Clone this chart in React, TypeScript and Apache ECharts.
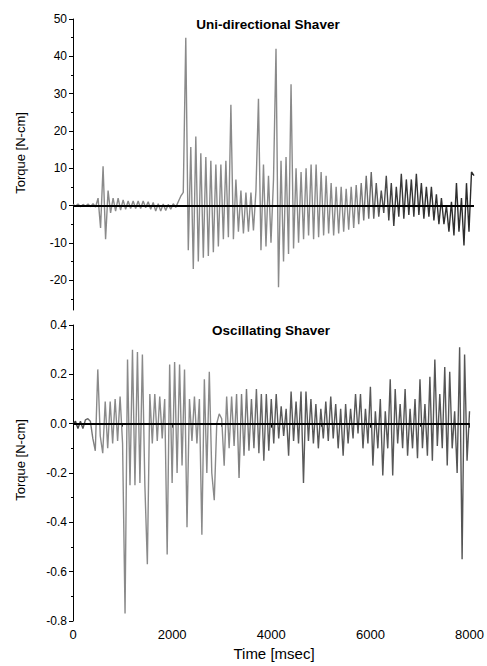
import React, { useEffect, useRef } from "react";
import * as echarts from "echarts";

// sampling interval of the recorded signals (ms)
const timeStep = 50;

// Uni-directional shaver torque [N-cm], one sample per timeStep
const uniTorque = [
  0.3, -0.2, 0.4, -0.3, 0.3, -0.2, 0.4, -0.3, 0.5, -0.4,
  2, -6, 10.5, -9, 4, -2, 2, -1.5, 2, -1.2,
  1.5, -1, 1.2, -0.8, 1.2, -0.8, 1.2, -0.8, 1.2, -0.6,
  1, -1, 0.8, -1.5, 0.5, -1.5, 0.4, -1.3, 0.3, -1,
  0.5, -0.5, 1, 2.5, 3.5, 45, -12, 15.7, -17, 18.5,
  -15, 14, -14, 13, -13.5, 12, -12.5, 11, -11, 11,
  -9, 12, -8.5, 27, -9, 7, -7, 4, -7.5, 3.5,
  -7, 3.5, -6.7, 4, 28.6, -12, 11, -11, 8, -10,
  7, 42, -21.9, 12, -15, 13, -13, 32.5, -11.5, 10,
  -10, 9, -9, 10, -8, 11, -9, 11, -8.5, 9,
  -8, 8, -7.5, 6, -8, 5, -7.5, 5, -7, 4.5,
  -6.5, 5, -6, 5.5, -5, 6, -4, 8, -3.5, 9,
  -3.5, 6, -3, 4, -2, 8, -4, 6, -5.5, 5,
  -3, 8.5, -3.5, 7, -2.5, 7, -3, 8.5, -2.5, 6,
  -3.5, 5, -3, 5, -4, 3, -5, 2, -5, 0,
  -7, 1, -8, 6, -7, 2, -10.7, 6, -7, 9,
  8,
];

// Oscillating shaver torque [N-cm], one sample per timeStep
const oscTorque = [
  0, 0.01, -0.02, 0.01, -0.02, 0.015, 0.02, 0.01, -0.06, -0.11,
  0.22, -0.05, -0.12, 0.09, -0.1, 0.09, -0.08, 0.1, -0.07, 0.11,
  -0.08, -0.77, 0.26, -0.25, 0.3, -0.25, 0.29, -0.24, 0.28, -0.25,
  -0.57, 0.12, -0.08, 0.12, -0.07, 0.11, -0.06, 0.1, -0.53, 0.24,
  -0.24, 0.25, -0.2, 0.24, -0.17, 0.22, -0.42, 0.1, -0.07, 0.11,
  -0.08, 0.1, -0.45, 0.18, -0.2, 0.21, -0.2, -0.31, 0.0, 0.04,
  0.02, -0.17, 0.11, -0.1, 0.11, -0.09, 0.12, -0.22,
  0.12, -0.13, 0.14, -0.11, 0.1, -0.1, 0.14, -0.12, 0.12, -0.15,
  0.12, -0.11, 0.1, -0.08, 0.12, -0.06, 0.07, -0.05, 0.06, -0.13,
  0.13, -0.07, 0.09, -0.08, 0.13, -0.24, 0.13, -0.07, 0.1, -0.08,
  0.08, -0.1, 0.06, -0.06, 0.09, -0.07, 0.11, -0.06, 0.08, -0.1,
  0.06, -0.13, 0.08, -0.08, 0.06, -0.06, 0.12, -0.04, 0.12, -0.1,
  0.06, -0.08, 0.15, -0.17, 0.05, -0.1, 0.1, -0.21, 0.05, -0.1,
  0.18, -0.21, 0.14, -0.08, 0.08, -0.1, 0.14, -0.13, 0.06, -0.1,
  0.1, -0.14, 0.18, -0.1, 0.08, -0.13, 0.19, -0.15, 0.26, -0.09,
  0.12, -0.1, 0.23, -0.17, 0.21, -0.1, 0.05, -0.2, 0.31, -0.55,
  0.28, -0.15, 0.05,
];

const xTicks = [0, 2000, 4000, 6000, 8000];
const uniMajorTicks = [-20, -10, 0, 10, 20, 30, 40, 50];
const uniMinorTicks = [-25, -15, -5, 5, 15, 25, 35, 45];
const uniRange = [-28, 50];
const oscRange = [-0.8, 0.4];
const oscInterval = 0.2;

const titles = ["Uni-directional Shaver", "Oscillating Shaver"];
const yName = "Torque [N-cm]";
const xName = "Time [msec]";

const FONT = "'Liberation Sans', Arial, Helvetica, sans-serif";

export default function App() {
  const ref = useRef<HTMLDivElement>(null);

  useEffect(() => {
    if (!ref.current) return;
    const chart = echarts.init(ref.current, undefined, { renderer: "svg" });

    const toPoints = (arr: number[]) => arr.map((v, i) => [i * timeStep, v]);
    const zeroLine = {
      silent: true,
      symbol: "none",
      label: { show: false },
      lineStyle: { color: "#000", width: 2, type: "solid" },
      data: [{ yAxis: 0 }],
    };

    const uniColor = new echarts.graphic.LinearGradient(0, 0, 1, 0, [
      { offset: 0, color: "#8a8a8a" },
      { offset: 0.7, color: "#8a8a8a" },
      { offset: 0.8, color: "#3a3a3a" },
      { offset: 1, color: "#2a2a2a" },
    ]);
    const oscColor = new echarts.graphic.LinearGradient(0, 0, 1, 0, [
      { offset: 0, color: "#333" },
      { offset: 0.06, color: "#8a8a8a" },
      { offset: 0.4, color: "#8a8a8a" },
      { offset: 0.5, color: "#5a5a5a" },
      { offset: 1, color: "#555" },
    ]);

    const option: any = {
      animation: false,
      backgroundColor: "#fff",
      textStyle: { fontFamily: FONT },
      grid: [
        { left: 73, right: 13, top: 19, height: 291 },
        { left: 73, right: 13, top: 325, height: 296 },
      ],
      xAxis: [
        {
          gridIndex: 0,
          type: "value",
          min: xTicks[0],
          max: xTicks[xTicks.length - 1],
          show: false,
        },
        {
          gridIndex: 1,
          type: "value",
          min: xTicks[0],
          max: xTicks[xTicks.length - 1],
          interval: 2000,
          axisLine: { lineStyle: { color: "#000", width: 1 } },
          axisTick: { length: 4, lineStyle: { color: "#000" } },
          minorTick: { show: true, splitNumber: 2, length: 3, lineStyle: { color: "#000" } },
          splitLine: { show: false },
          axisLabel: {
            color: "#000",
            fontSize: 13,
            margin: 7,
            fontFamily: FONT,
            formatter: (v: number) => String(Math.round(v)),
          },
        },
      ],
      yAxis: [
        {
          gridIndex: 0,
          type: "value",
          min: uniRange[0],
          max: uniRange[1],
          axisLine: { show: true, lineStyle: { color: "#000", width: 1 } },
          axisTick: { show: true, length: 4, customValues: uniMajorTicks, lineStyle: { color: "#000" } },
          axisLabel: { customValues: uniMajorTicks, color: "#000", fontSize: 12, margin: 6, fontFamily: FONT },
          splitLine: { show: false },
        },
        {
          gridIndex: 0,
          type: "value",
          min: uniRange[0],
          max: uniRange[1],
          position: "left",
          axisLine: { show: false },
          axisTick: { show: true, length: 2, customValues: uniMinorTicks, lineStyle: { color: "#000" } },
          axisLabel: { show: false },
          splitLine: { show: false },
        },
        {
          gridIndex: 1,
          type: "value",
          min: oscRange[0],
          max: oscRange[1],
          interval: oscInterval,
          axisLine: { show: true, lineStyle: { color: "#000", width: 1 } },
          axisTick: { show: true, length: 4, lineStyle: { color: "#000" } },
          minorTick: { show: true, splitNumber: 2, length: 2, lineStyle: { color: "#000" } },
          axisLabel: {
            color: "#000",
            fontSize: 12,
            margin: 6,
            fontFamily: FONT,
            formatter: (v: number) => (Math.abs(v) < 1e-9 ? "0.0" : v.toFixed(1)),
          },
          splitLine: { show: false },
        },
      ],
      series: [
        {
          type: "line",
          xAxisIndex: 0,
          yAxisIndex: 0,
          data: toPoints(uniTorque),
          symbol: "none",
          lineStyle: { color: uniColor, width: 1.4 },
          markLine: zeroLine,
        },
        {
          type: "line",
          xAxisIndex: 1,
          yAxisIndex: 2,
          data: toPoints(oscTorque),
          symbol: "none",
          lineStyle: { color: oscColor, width: 1.4 },
          markLine: zeroLine,
        },
      ],
      graphic: [
        {
          type: "text",
          x: 268,
          y: 24,
          style: { text: titles[0], font: `bold 13.5px ${FONT}`, fill: "#000", align: "center", verticalAlign: "middle" },
        },
        {
          type: "text",
          x: 271,
          y: 330,
          style: { text: titles[1], font: `bold 13.5px ${FONT}`, fill: "#000", align: "center", verticalAlign: "middle" },
        },
        {
          type: "text",
          x: 20,
          y: 153,
          rotation: Math.PI / 2,
          style: { text: yName, font: `13px ${FONT}`, fill: "#000", align: "center", verticalAlign: "middle" },
        },
        {
          type: "text",
          x: 20,
          y: 460,
          rotation: Math.PI / 2,
          style: { text: yName, font: `13px ${FONT}`, fill: "#000", align: "center", verticalAlign: "middle" },
        },
        {
          type: "text",
          x: 274,
          y: 653,
          style: { text: xName, font: `15px ${FONT}`, fill: "#000", align: "center", verticalAlign: "middle" },
        },
      ],
    };

    chart.setOption(option);
    return () => chart.dispose();
  }, []);

  return (
    <div
      ref={ref}
      style={{ position: "fixed", left: 0, top: 0, width: 487, height: 666 }}
    />
  );
}
